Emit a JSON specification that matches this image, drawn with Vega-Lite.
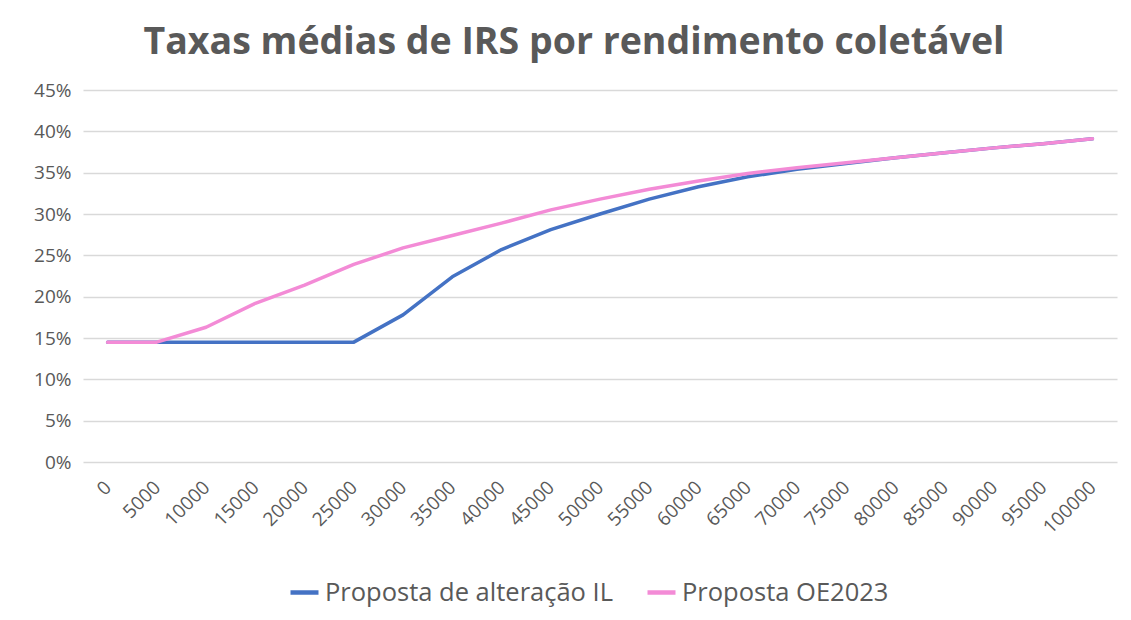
{
  "$schema": "https://vega.github.io/schema/vega-lite/v6.json",
  "width": 1034,
  "height": 372,
  "autosize": {"type": "none"},
  "padding": {"left": 83, "top": 90, "right": 14, "bottom": 158},
  "background": "white",
  "title": {
    "text": "Taxas médias de IRS por rendimento coletável",
    "font": "Open Sans",
    "fontSize": 37.5,
    "fontWeight": "bold",
    "color": "#595959",
    "anchor": "middle",
    "offset": 20,
    "dx": -26
  },
  "data": {
    "values": [
      {"x": 0, "serie": "Proposta de alteração IL", "taxa": 0.145},
      {"x": 5000, "serie": "Proposta de alteração IL", "taxa": 0.145},
      {"x": 10000, "serie": "Proposta de alteração IL", "taxa": 0.145},
      {"x": 15000, "serie": "Proposta de alteração IL", "taxa": 0.145},
      {"x": 20000, "serie": "Proposta de alteração IL", "taxa": 0.145},
      {"x": 25000, "serie": "Proposta de alteração IL", "taxa": 0.145},
      {"x": 30000, "serie": "Proposta de alteração IL", "taxa": 0.178},
      {"x": 35000, "serie": "Proposta de alteração IL", "taxa": 0.224},
      {"x": 40000, "serie": "Proposta de alteração IL", "taxa": 0.257},
      {"x": 45000, "serie": "Proposta de alteração IL", "taxa": 0.281},
      {"x": 50000, "serie": "Proposta de alteração IL", "taxa": 0.300},
      {"x": 55000, "serie": "Proposta de alteração IL", "taxa": 0.318},
      {"x": 60000, "serie": "Proposta de alteração IL", "taxa": 0.333},
      {"x": 65000, "serie": "Proposta de alteração IL", "taxa": 0.345},
      {"x": 70000, "serie": "Proposta de alteração IL", "taxa": 0.354},
      {"x": 75000, "serie": "Proposta de alteração IL", "taxa": 0.361},
      {"x": 80000, "serie": "Proposta de alteração IL", "taxa": 0.368},
      {"x": 85000, "serie": "Proposta de alteração IL", "taxa": 0.374},
      {"x": 90000, "serie": "Proposta de alteração IL", "taxa": 0.380},
      {"x": 95000, "serie": "Proposta de alteração IL", "taxa": 0.385},
      {"x": 100000, "serie": "Proposta de alteração IL", "taxa": 0.391},
      {"x": 0, "serie": "Proposta OE2023", "taxa": 0.145},
      {"x": 5000, "serie": "Proposta OE2023", "taxa": 0.145},
      {"x": 10000, "serie": "Proposta OE2023", "taxa": 0.163},
      {"x": 15000, "serie": "Proposta OE2023", "taxa": 0.192},
      {"x": 20000, "serie": "Proposta OE2023", "taxa": 0.214},
      {"x": 25000, "serie": "Proposta OE2023", "taxa": 0.239},
      {"x": 30000, "serie": "Proposta OE2023", "taxa": 0.259},
      {"x": 35000, "serie": "Proposta OE2023", "taxa": 0.274},
      {"x": 40000, "serie": "Proposta OE2023", "taxa": 0.289},
      {"x": 45000, "serie": "Proposta OE2023", "taxa": 0.305},
      {"x": 50000, "serie": "Proposta OE2023", "taxa": 0.318},
      {"x": 55000, "serie": "Proposta OE2023", "taxa": 0.330},
      {"x": 60000, "serie": "Proposta OE2023", "taxa": 0.340},
      {"x": 65000, "serie": "Proposta OE2023", "taxa": 0.349},
      {"x": 70000, "serie": "Proposta OE2023", "taxa": 0.356},
      {"x": 75000, "serie": "Proposta OE2023", "taxa": 0.362},
      {"x": 80000, "serie": "Proposta OE2023", "taxa": 0.368},
      {"x": 85000, "serie": "Proposta OE2023", "taxa": 0.374},
      {"x": 90000, "serie": "Proposta OE2023", "taxa": 0.380},
      {"x": 95000, "serie": "Proposta OE2023", "taxa": 0.385},
      {"x": 100000, "serie": "Proposta OE2023", "taxa": 0.391}
    ]
  },
  "mark": {"type": "line", "strokeWidth": 3.5, "strokeCap": "round", "strokeJoin": "round"},
  "encoding": {
    "x": {
      "field": "x",
      "type": "ordinal",
      "scale": {"type": "point", "padding": 0.5},
      "axis": {
        "title": null,
        "labelAngle": -45,
        "labelAlign": "right",
        "labelBaseline": "middle",
        "labelFont": "Open Sans",
        "labelFontSize": 19,
        "labelColor": "#595959",
        "labelPadding": 22,
        "labelOverlap": false,
        "ticks": false,
        "domain": false,
        "grid": false
      }
    },
    "y": {
      "field": "taxa",
      "type": "quantitative",
      "scale": {"domain": [0, 0.45], "nice": false},
      "axis": {
        "title": null,
        "values": [0, 0.05, 0.1, 0.15, 0.2, 0.25, 0.3, 0.35, 0.4, 0.45],
        "format": ".0%",
        "labelFont": "Open Sans",
        "labelFontSize": 19,
        "labelColor": "#595959",
        "labelPadding": 12,
        "ticks": false,
        "domain": false,
        "grid": true,
        "gridColor": "#d9d9d9",
        "gridWidth": 1.5
      }
    },
    "color": {
      "field": "serie",
      "type": "nominal",
      "scale": {
        "domain": ["Proposta de alteração IL", "Proposta OE2023"],
        "range": ["#4472C4", "#F38BD6"]
      },
      "legend": {
        "title": null,
        "orient": "none",
        "direction": "horizontal",
        "legendX": 205,
        "legendY": 486,
        "symbolType": "stroke",
        "symbolSize": 784,
        "symbolStrokeWidth": 4.5,
        "labelFont": "Open Sans",
        "labelFontSize": 25.5,
        "labelColor": "#595959",
        "labelOffset": 4,
        "labelLimit": 0,
        "columnPadding": 24
      }
    }
  },
  "config": {"view": {"stroke": null}}
}
